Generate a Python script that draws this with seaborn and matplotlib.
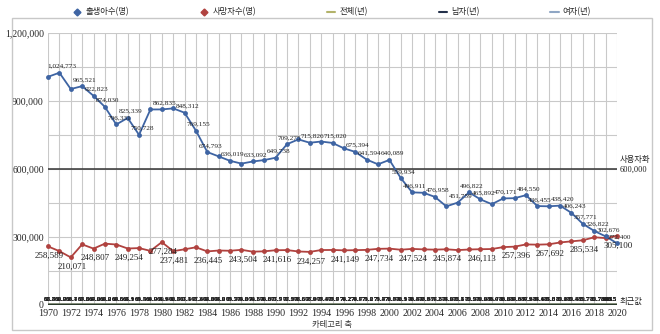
import matplotlib
matplotlib.use("Agg")
import matplotlib.pyplot as plt
import seaborn as sns
import pandas as pd
from matplotlib.patches import Rectangle
from matplotlib.lines import Line2D

years = list(range(1970, 2021))
births = [1006645, 1024773, 952780, 965521, 922823, 874030, 796331, 825339, 750728, 862669,
          862835, 867409, 848312, 769155, 674793, 655489, 636019, 623831, 633092, 639431,
          649738, 709275, 730678, 715826, 721185, 715020, 691226, 675394, 641594, 620668,
          640089, 559934, 496911, 495036, 476958, 435031, 451759, 496822, 465892, 444849,
          470171, 471265, 484550, 436455, 435435, 438420, 406243, 357771, 326822, 302676,
          272400]
deaths = [258589, 237528, 210071, 267460, 248807, 270657, 266857, 249254, 251069, 238824,
          277284, 237481, 245767, 254563, 236445, 240418, 239256, 243504, 235221, 236818,
          241616, 242270, 236162, 234257, 242439, 242838, 241149, 241943, 243193, 247734,
          248740, 243813, 247524, 245317, 244217, 245874, 242266, 244874, 246113, 246942,
          255405, 257396, 267221, 266257, 267692, 275895, 280827, 285534, 298820, 295110,
          305100]
life_total = [62.3, 62.7, 63.1, 63.6, 64.0, 64.2, 64.6, 65.1, 65.5, 66.0, 66.1, 66.7, 67.4, 67.4,
              68.2, 68.9, 69.5, 70.0, 70.3, 70.8, 71.7, 72.2, 72.6, 73.0, 73.4, 73.8, 74.2, 74.7,
              75.2, 75.7, 76.0, 76.5, 76.8, 77.3, 77.8, 78.2, 78.8, 79.2, 79.6, 80.0, 80.2, 80.6,
              80.9, 81.4, 81.8, 82.1, 82.4, 82.7, 82.7, 83.3, 83.5]
life_male = [58.7, 59.0, 59.4, 59.8, 60.2, 60.2, 60.6, 61.1, 61.5, 61.9, 61.9, 62.5, 63.1, 63.2,
             64.0, 64.6, 65.2, 65.8, 66.1, 66.6, 67.5, 67.9, 68.5, 68.9, 69.3, 69.7, 70.2, 70.7,
             71.2, 71.8, 72.3, 72.9, 73.4, 73.9, 74.5, 74.9, 75.5, 75.9, 76.2, 76.7, 76.8, 77.3,
             77.6, 78.1, 78.6, 79.0, 79.3, 79.7, 79.7, 80.3, 80.5]
life_female = [65.8, 66.2, 66.7, 67.2, 67.6, 68.0, 68.5, 68.9, 69.4, 69.9, 70.4, 70.8, 71.5, 71.6,
               72.3, 73.2, 73.7, 74.2, 74.5, 75.0, 75.9, 76.3, 76.6, 77.0, 77.4, 77.9, 78.2, 78.6,
               79.0, 79.4, 79.7, 80.1, 80.3, 80.8, 81.2, 81.6, 82.1, 82.5, 82.9, 83.4, 83.6, 84.0,
               84.2, 84.6, 85.0, 85.2, 85.4, 85.7, 85.7, 86.3, 86.5]
birth_label_years = [1971, 1973, 1974, 1975, 1976, 1977, 1978, 1980, 1982, 1983, 1984, 1986, 1988,
                     1990, 1991, 1993, 1995, 1997, 1998, 2000, 2001, 2002, 2004, 2006, 2007, 2008,
                     2010, 2012, 2013, 2015, 2016, 2017, 2018, 2019, 2020]
death_label_years = [1970, 1972, 1974, 1977, 1980, 1981, 1984, 1987, 1990, 1993, 1996, 1999,
                     2002, 2005, 2008, 2011, 2014, 2017, 2020]
legend_labels = ["출생아수(명)", "사망자수(명)", "전체(년)", "남자(년)", "여자(년)"]
ref_value = 600000
ref_label = "사용자화"

sns.set_theme(style="white")
plt.rcParams['font.family'] = ['Liberation Serif', 'Noto Sans CJK KR']

df = pd.DataFrame({"year": years, "births": births, "deaths": deaths,
                   "total": life_total, "male": life_male, "female": life_female})

W, H = 660, 334
fig = plt.figure(figsize=(W / 100, H / 100), dpi=100)
fig.patches.append(Rectangle((12 / W, 1 - 330 / H), 640 / W, 312 / H, transform=fig.transFigure,
                             fill=False, edgecolor="#c8c8c8", linewidth=1))
ax = fig.add_axes([48 / W, 1 - 305 / H, (617 - 48) / W, (305 - 33) / H])

c_birth = "#3e64a3"
c_death = "#b0423f"
c_total = "#b3b36a"
c_male = "#23304a"
c_female = "#8fa6c4"

ax.set_xlim(1970, 2020)
ax.set_ylim(0, 1200000)
ax.set_xticks(years)
ax.set_xticklabels([str(y) if y % 2 == 0 else "" for y in years], fontsize=7.2)
ax.set_yticks([0, 300000, 600000, 900000, 1200000])
ax.set_yticks([150000, 450000, 750000, 1050000], minor=True)
ax.set_yticklabels(["0", "300,000", "600,000", "900,000", "1,200,000"], fontsize=7)
ax.grid(True, which="both", color="#c9c9c9", linewidth=0.8)
ax.tick_params(axis="both", length=0, pad=3)
for s in ax.spines.values():
    s.set_visible(False)

ax.axhline(ref_value, color="#333333", linewidth=1.1, zorder=2)

sns.lineplot(data=df, x="year", y="female", ax=ax, color=c_female, linewidth=2, zorder=3, legend=False)
sns.lineplot(data=df, x="year", y="total", ax=ax, color=c_total, linewidth=2, zorder=3, legend=False)
sns.lineplot(data=df, x="year", y="male", ax=ax, color="#2b3a2b", linewidth=2, zorder=3, legend=False)

sns.lineplot(data=df, x="year", y="deaths", ax=ax, color=c_death, linewidth=1.3, marker="o",
             markersize=3.5, markeredgewidth=0, zorder=4, legend=False, clip_on=False)
sns.lineplot(data=df, x="year", y="births", ax=ax, color=c_birth, linewidth=1.3, marker="o",
             markersize=3.5, markeredgewidth=0, zorder=5, legend=False, clip_on=False)
ax.set_xlabel("")
ax.set_ylabel("")

for y in birth_label_years:
    v = births[years.index(y)]
    ax.annotate(f"{v:,}", (y, v), xytext=(2, 3), textcoords="offset points", fontsize=5.2,
                ha="center", va="bottom", color="#222222", zorder=6)
for y in death_label_years:
    v = deaths[years.index(y)]
    ax.annotate(f"{v:,}", (y, v), xytext=(1, -4), textcoords="offset points", fontsize=6.5,
                ha="center", va="top", color="#222222", zorder=6)
for i, y in enumerate(years):
    last = (y == years[-1])
    for arr in (life_male, life_total, life_female):
        ax.annotate(f"{arr[i]:.1f}", (y, 0), xytext=(0 if last else 1, 2.5),
                    textcoords="offset points", fontsize=5, fontweight="bold",
                    ha="right" if last else "center", va="bottom", color="#222222",
                    zorder=6, annotation_clip=False)

fig.text(620 / W, 1 - 165 / H, ref_label + "\n" + f"{ref_value:,}", fontsize=6, ha="left",
         va="center", linespacing=1.4, color="#222222")
fig.text(620 / W, 1 - 301 / H, "최근값", fontsize=6, ha="left", va="center",
         family="Noto Sans CJK KR", color="#222222")
fig.text(332 / W, 1 - 325 / H, "카테고리 축", fontsize=6, ha="center", va="center",
         family="Noto Sans CJK KR", color="#333333")

handles = [
    Line2D([], [], color=c_birth, marker="D", markersize=3.5, linestyle="none"),
    Line2D([], [], color=c_death, marker="D", markersize=3.5, linestyle="none"),
    Line2D([], [], color=c_total, linewidth=1.5),
    Line2D([], [], color=c_male, linewidth=1.5),
    Line2D([], [], color=c_female, linewidth=1.5),
]
fig.legend(handles, legend_labels, loc="center", bbox_to_anchor=(332 / W, 1 - 12 / H),
           ncol=5, frameon=False, prop={"family": "Noto Sans CJK KR", "size": 6},
           columnspacing=8.5, handlelength=1.0, handletextpad=0.5)

fig.savefig("out.png", dpi=100)
